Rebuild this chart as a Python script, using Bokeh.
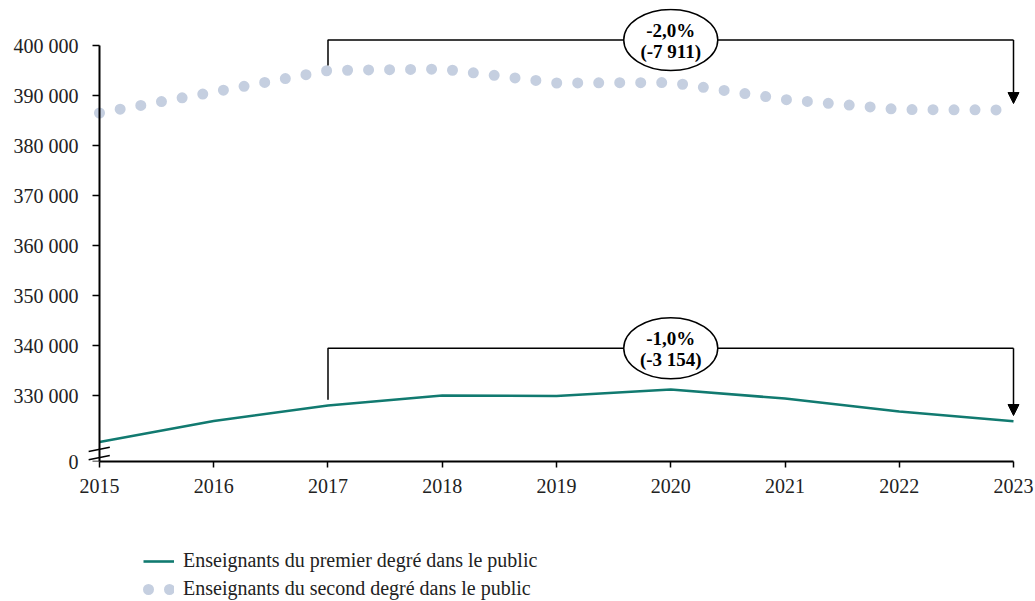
from bokeh.plotting import figure
from bokeh.layouts import column
from bokeh.models import (FixedTicker, Legend, LegendItem, Arrow, NormalHead,
                          Range1d, LinearAxis)
from bokeh.core.properties import value
from bokeh.embed import file_html
from bokeh.resources import INLINE

# ---- data ----
years = [2015, 2016, 2017, 2018, 2019, 2020, 2021, 2022, 2023]
premier = [320700, 324900, 328000, 330000, 329900, 331200, 329400, 326800, 324846]
second = [386500, 390700, 395000, 395300, 392500, 392600, 389200, 387200, 387089]
y_ticks = [330000, 340000, 350000, 360000, 370000, 380000, 390000, 400000]
y_break = 316800          # axis bottom shown as "0"
labels = ["Enseignants du premier degré dans le public",
          "Enseignants du second degré dans le public"]
ann_start, ann_end = 2017, 2023
ann_second = ["-2,0%", "(-7 911)"]
ann_premier = ["-1,0%", "(-3 154)"]

FONT = "Liberation Serif"
GREEN = "#117a70"
DOTS = "#c5cfe0"
TXT = "#222222"

X_PAD = 0.105   # room beside the axis ends (in years) for break marks / arrows

p = figure(width=1035, height=518, output_backend="svg", toolbar_location=None,
           x_range=Range1d(years[0] - X_PAD, years[-1] + X_PAD),
           y_range=Range1d(y_break, 407400),
           min_border_left=87, min_border_right=10, min_border_top=8,
           min_border_bottom=57)
p.outline_line_color = None
p.grid.visible = False

# series
p.line(years, second, line_color=DOTS, line_width=11, line_cap="round",
       line_dash="0 21")
p.line(years, premier, line_color=GREEN, line_width=2.6)

# annotations (brackets)
def bracket(vals, top_y, lift_start, lift_end, texts):
    i0 = years.index(ann_start)
    i1 = years.index(ann_end)
    p.line([ann_start, ann_start, ann_end],
           [vals[i0] + lift_start, top_y, top_y],
           line_color="black", line_width=1.5)
    p.add_layout(Arrow(x_start=ann_end, y_start=top_y, x_end=ann_end,
                       y_end=vals[i1] + lift_end, line_width=1.5,
                       end=NormalHead(size=11, fill_color="black",
                                      line_color="black")))
    mid = (ann_start + ann_end) / 2
    p.ellipse(x=[mid], y=[top_y], width=94, height=61, width_units="screen",
              height_units="screen", fill_color="white", line_color="black",
              line_width=1.5)
    for txt, off in zip(texts, (-10, 11)):
        p.text(x=[mid], y=[top_y], text=[txt], y_offset=off,
               text_font=value(FONT), text_font_style="bold",
               text_font_size="19px", text_align="center",
               text_baseline="middle", text_color="black")

bracket(second, 401100, 1000, 1300, ann_second)
bracket(premier, 339450, 1150, 1150, ann_premier)

# axis break marks
for y0, y1 in [(318800, 319660), (317140, 318000)]:
    p.add_layout(Arrow(x_start=years[0] - 0.095, y_start=y0,
                       x_end=years[0] + 0.09, y_end=y1, end=None,
                       line_width=1.5, line_color="black"))

# axes
xa = p.xaxis[0]
xa.ticker = FixedTicker(ticks=years)
xa.bounds = (years[0], years[-1])
xa.major_tick_in = 0
xa.major_tick_out = 6
xa.minor_tick_line_color = None
xa.axis_line_width = 2
xa.major_tick_line_width = 1.5
xa.major_label_text_font = FONT
xa.major_label_text_font_size = "20px"
xa.major_label_text_color = TXT
xa.major_label_standoff = 11

y_all = [y_break] + y_ticks
overrides = {y_break: "0"}
for t in y_ticks:
    overrides[t] = f"{t:,}".replace(",", " ")

# axis line + ticks, placed at the first year
ya = p.yaxis[0]
ya.fixed_location = years[0]
ya.ticker = FixedTicker(ticks=y_all)
ya.bounds = (y_break, y_ticks[-1])
ya.major_label_overrides = {t: "" for t in y_all}
ya.major_tick_in = 0
ya.major_tick_out = 7
ya.minor_tick_line_color = None
ya.axis_line_width = 2
ya.major_tick_line_width = 1.5

# tick labels only, in the left panel
yl = LinearAxis(ticker=FixedTicker(ticks=y_all), major_label_overrides=overrides,
                axis_line_color=None, major_tick_line_color=None,
                minor_tick_line_color=None, major_tick_in=0, major_tick_out=0,
                major_label_standoff=9, major_label_text_font=FONT,
                major_label_text_font_size="20px", major_label_text_color=TXT)
p.add_layout(yl, "left")

# legend in a separate strip below
lg = figure(width=1035, height=83, output_backend="svg", toolbar_location=None,
            x_range=Range1d(0, 1), y_range=Range1d(0, 1),
            x_axis_type=None, y_axis_type=None,
            min_border_left=87, min_border_right=10, min_border_top=0,
            min_border_bottom=0)
lg.outline_line_color = None
lg.grid.visible = False
# legend-only renderers, kept outside the visible range
d1 = lg.line([0, 1], [5, 5], line_color=GREEN, line_width=2.6)
d2 = lg.line([0, 1], [5, 5], line_color=DOTS, line_width=11, line_cap="round",
             line_dash="0 21", line_dash_offset=-5)
legend = Legend(items=[LegendItem(label=labels[0], renderers=[d1]),
                       LegendItem(label=labels[1], renderers=[d2])],
                location=(56, 1), orientation="vertical",
                glyph_width=31, glyph_height=20, label_height=20,
                label_standoff=9, spacing=5, padding=0, margin=0,
                border_line_color=None, background_fill_alpha=0,
                label_text_font=FONT, label_text_font_size="20px",
                label_text_color=TXT)
lg.add_layout(legend, "center")

layout = column(p, lg, spacing=0)
open("out.html", "w").write(file_html(layout, INLINE))
